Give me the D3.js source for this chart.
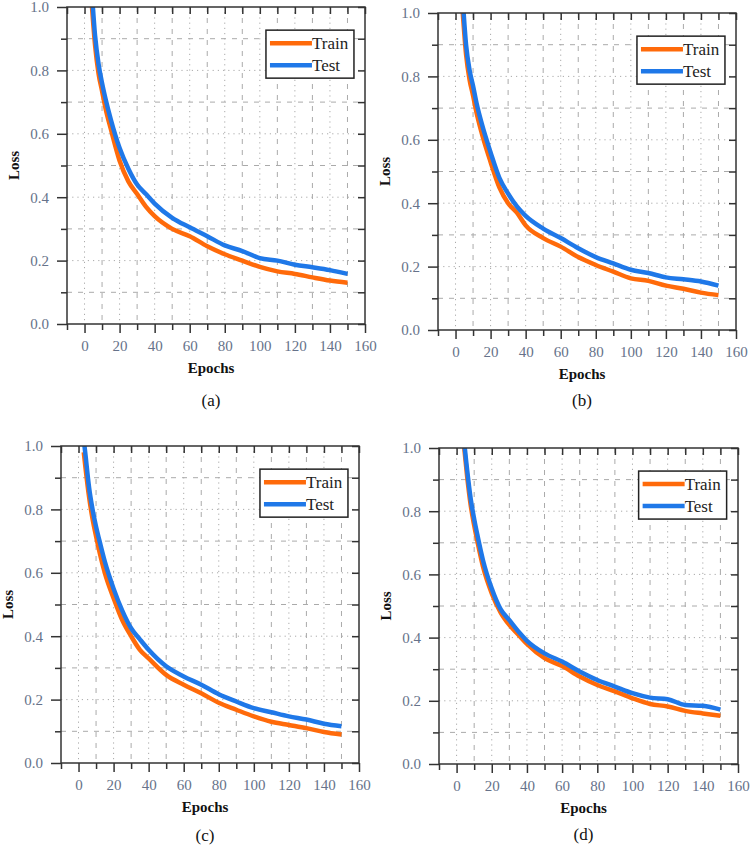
<!DOCTYPE html>
<html>
<head>
<meta charset="utf-8">
<script src="https://cdn.jsdelivr.net/npm/d3@7/dist/d3.min.js"></script>
<style>
  body { margin:0; background:#fff; }
  svg text { font-family: "Liberation Serif", "Times New Roman", serif; }
</style>
</head>
<body>
<svg id="Vis" width="750" height="848"></svg>
<script>
var epochs = [3, 4, 6, 8, 10, 12, 15, 20, 25, 30, 35, 40, 50, 60, 70, 80, 90, 100, 110, 120, 130, 140, 150];

var trainA = [1.10, 1.02, 0.88, 0.79, 0.735, 0.68, 0.615, 0.515, 0.45, 0.41, 0.37, 0.34, 0.30, 0.277, 0.245, 0.22, 0.20, 0.18, 0.166, 0.158, 0.147, 0.137, 0.13];
var testA  = [1.14, 1.06, 0.91, 0.82, 0.76, 0.71, 0.645, 0.555, 0.49, 0.44, 0.41, 0.38, 0.335, 0.305, 0.277, 0.248, 0.23, 0.208, 0.20, 0.187, 0.179, 0.17, 0.158];

var trainB = [1.09, 1.01, 0.87, 0.79, 0.74, 0.685, 0.62, 0.53, 0.45, 0.40, 0.37, 0.33, 0.29, 0.263, 0.23, 0.205, 0.184, 0.163, 0.155, 0.14, 0.13, 0.118, 0.11];
var testB  = [1.13, 1.05, 0.90, 0.82, 0.77, 0.715, 0.65, 0.56, 0.48, 0.43, 0.39, 0.36, 0.32, 0.29, 0.258, 0.23, 0.21, 0.19, 0.18, 0.166, 0.16, 0.153, 0.14];

var trainC = [0.98, 0.93, 0.84, 0.77, 0.715, 0.665, 0.60, 0.52, 0.45, 0.40, 0.357, 0.33, 0.278, 0.247, 0.22, 0.19, 0.168, 0.147, 0.13, 0.12, 0.11, 0.098, 0.09];
var testC  = [1.02, 0.97, 0.87, 0.80, 0.745, 0.70, 0.635, 0.55, 0.48, 0.425, 0.39, 0.357, 0.305, 0.273, 0.247, 0.217, 0.194, 0.173, 0.16, 0.147, 0.137, 0.124, 0.116];

var trainD = [1.08, 1.02, 0.91, 0.82, 0.755, 0.70, 0.625, 0.54, 0.48, 0.44, 0.41, 0.38, 0.335, 0.31, 0.277, 0.25, 0.23, 0.208, 0.19, 0.182, 0.168, 0.16, 0.153];
var testD  = [1.11, 1.04, 0.93, 0.84, 0.775, 0.72, 0.645, 0.555, 0.49, 0.455, 0.42, 0.39, 0.35, 0.324, 0.293, 0.266, 0.245, 0.224, 0.21, 0.205, 0.187, 0.184, 0.172];

var seriesNames = ["Train", "Test"];
var panelLabels = ["(a)", "(b)", "(c)", "(d)"];
var xMajorTicks = [0, 20, 40, 60, 80, 100, 120, 140, 160];
var xMinorTicks = [-10, 10, 30, 50, 70, 90, 110, 130, 150];
var yMajorTicks = [0.0, 0.2, 0.4, 0.6, 0.8, 1.0];
var yMinorTicks = [0.1, 0.3, 0.5, 0.7, 0.9];

var trainColor = "#ff6a0a";
var testColor  = "#1f78e8";
var tickColor  = "#66728a";

// plot frame of each panel: left, top, right, bottom, caption baseline
var frames = [
  {l:67,  t:7,   r:365, b:324, cap:406},
  {l:438, t:13,  r:736, b:330, cap:406},
  {l:61,  t:446, r:359, b:763, cap:841},
  {l:439, t:448, r:738, b:764, cap:840}
];

var svg = d3.select("#Vis");

function drawPanel(i, train, test){
  var f = frames[i];
  var g = svg.append("g").attr("class","panel").attr("id","panel_"+i);

  var x = d3.scaleLinear().domain([-10,160]).range([f.l, f.r]);
  var y = d3.scaleLinear().domain([0,1]).range([f.b, f.t]);

  // grid: major dotted, minor dashed
  var grid = g.append("g").attr("stroke","#aaa").attr("stroke-width",1);
  grid.selectAll("line.vmaj").data(xMajorTicks.filter(function(d){return d<160;}))
    .enter().append("line")
    .attr("x1",function(d){return x(d);}).attr("x2",function(d){return x(d);})
    .attr("y1",f.t).attr("y2",f.b).attr("stroke-dasharray","1.2,4");
  grid.selectAll("line.vmin").data(xMinorTicks.filter(function(d){return d>-10;}))
    .enter().append("line")
    .attr("x1",function(d){return x(d);}).attr("x2",function(d){return x(d);})
    .attr("y1",f.t).attr("y2",f.b).attr("stroke-dasharray","5,6");
  grid.selectAll("line.hmaj").data(yMajorTicks.filter(function(d){return d>0 && d<1;}))
    .enter().append("line")
    .attr("y1",function(d){return y(d);}).attr("y2",function(d){return y(d);})
    .attr("x1",f.l).attr("x2",f.r).attr("stroke-dasharray","1.2,4");
  grid.selectAll("line.hmin").data(yMinorTicks)
    .enter().append("line")
    .attr("y1",function(d){return y(d);}).attr("y2",function(d){return y(d);})
    .attr("x1",f.l).attr("x2",f.r).attr("stroke-dasharray","5,6");

  // curves
  var line = d3.line()
    .x(function(d){return x(d[0]);})
    .y(function(d){return y(d[1]);})
    .curve(d3.curveMonotoneX);

  g.append("clipPath").attr("id","clip_"+i)
    .append("rect").attr("x",f.l).attr("y",f.t).attr("width",f.r-f.l).attr("height",f.b-f.t);

  var curves = g.append("g").attr("clip-path","url(#clip_"+i+")");
  curves.append("path")
    .datum(epochs.map(function(e,k){return [e, train[k]];}))
    .attr("d", line).attr("fill","none").attr("stroke",trainColor).attr("stroke-width",4.5);
  curves.append("path")
    .datum(epochs.map(function(e,k){return [e, test[k]];}))
    .attr("d", line).attr("fill","none").attr("stroke",testColor).attr("stroke-width",4.5);

  // axes
  var fmt = d3.format(".1f");
  var axY = g.append("g").attr("transform","translate("+f.l+",0)")
    .call(d3.axisLeft(y).tickValues(yMajorTicks).tickFormat(fmt).tickSize(10).tickPadding(8));
  var axYm = g.append("g").attr("transform","translate("+f.l+",0)")
    .call(d3.axisLeft(y).tickValues(yMinorTicks).tickFormat("").tickSize(6));
  var axX = g.append("g").attr("transform","translate(0,"+f.b+")")
    .call(d3.axisBottom(x).tickValues(xMajorTicks).tickFormat(d3.format("d")).tickSize(9).tickPadding(7));
  var axXm = g.append("g").attr("transform","translate(0,"+f.b+")")
    .call(d3.axisBottom(x).tickValues(xMinorTicks).tickFormat("").tickSize(6));
  // mirrored inward ticks on top and right
  var axT = g.append("g").attr("transform","translate(0,"+f.t+")")
    .call(d3.axisBottom(x).tickValues(xMajorTicks.concat(xMinorTicks)).tickFormat("").tickSize(7));
  var axR = g.append("g").attr("transform","translate("+f.r+",0)")
    .call(d3.axisLeft(y).tickValues(yMajorTicks.concat(yMinorTicks)).tickFormat("").tickSize(7));

  [axY, axYm, axX, axXm, axT, axR].forEach(function(a){
    a.select(".domain").remove();
    a.selectAll(".tick line").attr("stroke","#333").attr("stroke-width",1.5);
  });
  axY.selectAll("text").attr("fill",tickColor).style("font-size","15px");
  axX.selectAll("text").attr("fill",tickColor).style("font-size","15px");

  g.append("rect")
    .attr("x",f.l).attr("y",f.t).attr("width",f.r-f.l).attr("height",f.b-f.t)
    .attr("fill","none").attr("stroke","#333").attr("stroke-width",1.5);

  // axis titles
  var cx = (f.l + f.r)/2 - 5;
  g.append("text").attr("x",cx).attr("y",f.b+49)
    .attr("text-anchor","middle").attr("font-weight","bold").style("font-size","15px")
    .attr("fill","#111").text("Epochs");
  g.append("text")
    .attr("transform","translate("+(f.l-48)+","+((f.t+f.b)/2)+") rotate(-90)")
    .attr("text-anchor","middle").attr("font-weight","bold").style("font-size","15px")
    .attr("fill","#111").text("Loss");

  // legend
  var lx = x(103.5), ly = y(0.927);
  var lg = g.append("g").attr("transform","translate("+lx+","+ly+")");
  lg.append("rect").attr("x",0).attr("y",0).attr("width",88).attr("height",48)
    .attr("fill","#fff").attr("stroke","#222").attr("stroke-width",1.5);
  var colors = [trainColor, testColor];
  seriesNames.forEach(function(name, k){
    var yy = 13 + k*22;
    lg.append("line").attr("x1",4).attr("x2",46).attr("y1",yy).attr("y2",yy)
      .attr("stroke",colors[k]).attr("stroke-width",4.5);
    lg.append("text").attr("x",46).attr("y",yy+6).style("font-size","17px")
      .attr("fill","#222").text(name);
  });

  // panel caption
  g.append("text").attr("x",cx).attr("y",f.cap)
    .attr("text-anchor","middle").style("font-size","17px").attr("fill","#111")
    .text(panelLabels[i]);
}

drawPanel(0, trainA, testA);
drawPanel(1, trainB, testB);
drawPanel(2, trainC, testC);
drawPanel(3, trainD, testD);
</script>
</body>
</html>
